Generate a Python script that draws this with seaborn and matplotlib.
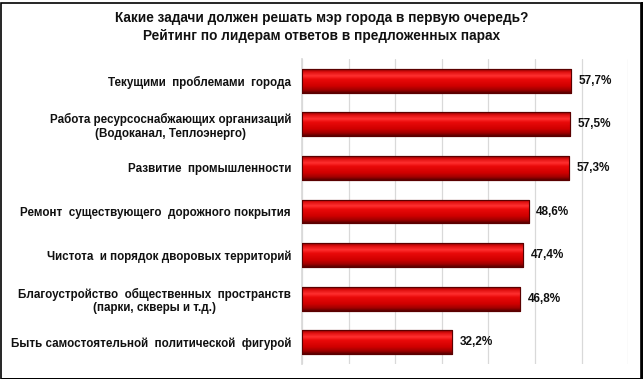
import numpy as np
import pandas as pd
import matplotlib
matplotlib.use("Agg")
import matplotlib.pyplot as plt
import seaborn as sns
from matplotlib.colors import LinearSegmentedColormap
from matplotlib.patches import Rectangle
from matplotlib import font_manager

categories = [
    "Текущими  проблемами  города",
    "Работа ресурсоснабжающих организаций\n(Водоканал, Теплоэнерго)",
    "Развитие  промышленности",
    "Ремонт  существующего  дорожного покрытия",
    "Чистота  и порядок дворовых территорий",
    "Благоустройство  общественных  пространств\n(парки, скверы и т.д.)",
    "Быть самостоятельной  политической  фигурой",
]
values = [57.7, 57.5, 57.3, 48.6, 47.4, 46.8, 32.2]
title = "Какие задачи должен решать мэр города в первую очередь?\nРейтинг по лидерам ответов в предложенных парах"

df = pd.DataFrame({"cat": categories, "val": values})

sns.set_theme(style="white")
plt.rcParams['font.family'] = ['Liberation Sans', 'DejaVu Sans']

names = {f.name for f in font_manager.fontManager.ttflist}
narrow = "Liberation Sans Narrow" in names

fig = plt.figure(figsize=(6.43, 3.79), dpi=100)
ax = fig.add_axes([302/643, 1-364/379, (628.3-302)/643, (364-59)/379])

sns.barplot(data=df, x="val", y="cat", ax=ax, color="#d00000", width=0.55,
            edgecolor="#6a0000", linewidth=0.8, zorder=3)

cmap = LinearSegmentedColormap.from_list("bev", [
    (0.0, "#8a0000"), (0.12, "#e01010"), (0.28, "#ff3030"), (0.42, "#ea0a0a"),
    (0.7, "#d00000"), (0.88, "#a00000"), (1.0, "#5a0000")])
grad = np.linspace(0, 1, 64).reshape(-1, 1)
for p in ax.patches:
    x0, y0 = p.get_x(), p.get_y()
    w, h = p.get_width(), p.get_height()
    im = ax.imshow(grad, cmap=cmap, aspect="auto", extent=(x0, x0 + w, y0 + h, y0),
                   zorder=3.5, interpolation="bilinear")
    im.set_clip_path(p)
    ax.add_patch(Rectangle((x0, y0), w, h, fill=False, edgecolor="#5a0000", lw=0.8, zorder=4))

ax.set_xlim(0, 70)
ax.set_ylim(6.5, -0.5)
ax.set_xticks(np.arange(0, 71, 10))
ax.xaxis.grid(True, color="#d9d9d9", lw=0.9, zorder=0)
ax.set_xticklabels([])
ax.tick_params(axis="both", length=0)
ax.set_xlabel("")
ax.set_ylabel("")
for s in ["top", "right", "bottom"]:
    ax.spines[s].set_visible(False)
ax.spines["left"].set_color("#d9d9d9")

ax.set_yticks(range(len(categories)))
ax.set_yticklabels(categories, fontsize=8.4, fontweight="bold", color="#111111",
                   multialignment="center")
ax.tick_params(axis="y", pad=8)

for i, v in enumerate(values):
    ax.text(v + 1.6, i, f"{v:.1f}%".replace(".", ","), va="center", ha="left",
            fontsize=8.5, fontweight="bold", color="#111111", zorder=5)

if narrow:
    fig.text(0.5, 1 - 27/379, title, ha="center", va="center", fontsize=11.5,
             fontweight="bold", family=['Liberation Sans Narrow', 'DejaVu Sans'],
             linespacing=1.3, color="#111111")
else:
    fig.text(0.5, 1 - 27/379, title, ha="center", va="center", fontsize=9.8,
             fontweight="bold", family=['Liberation Sans', 'DejaVu Sans'],
             linespacing=1.4, color="#111111")

fig.patches.append(Rectangle((0.5/643, 0.5/379), 1 - 3/643, 1 - 3/379, transform=fig.transFigure,
                             fill=False, edgecolor="black", lw=1.2))
fig.patches.append(Rectangle((2/643, 0), 1 - 2/643, 1.5/379, transform=fig.transFigure,
                             color="black", lw=0))
fig.patches.append(Rectangle((1 - 2/643, 0), 2/643, 1 - 2/379, transform=fig.transFigure,
                             color="black", lw=0))

fig.savefig("out.png", dpi=100)
